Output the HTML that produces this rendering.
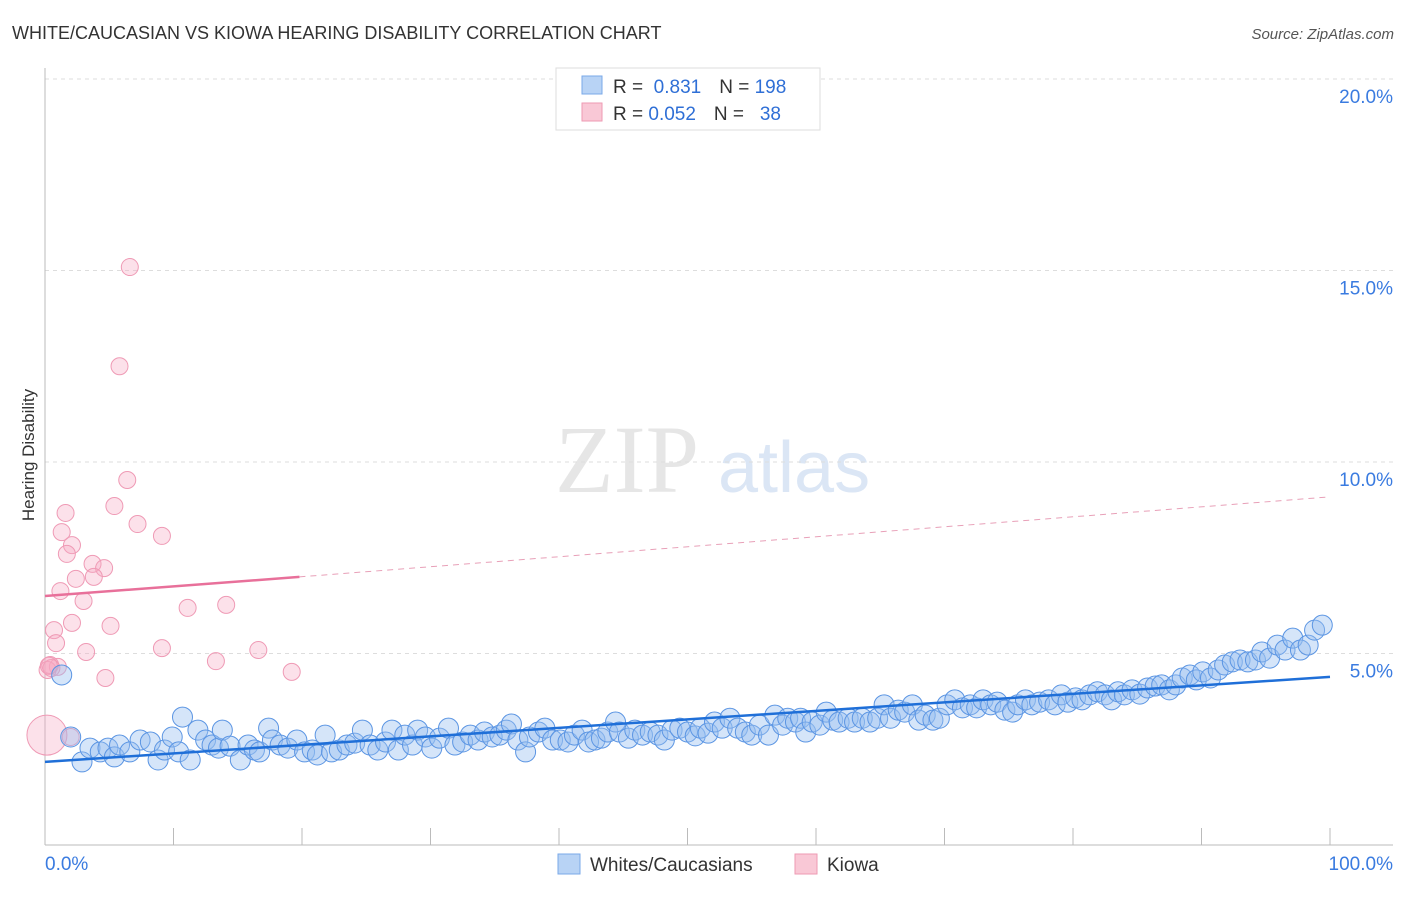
<!DOCTYPE html>
<html><head><meta charset="utf-8"><style>
body{margin:0;background:#fff;font-family:"Liberation Sans",sans-serif}
</style></head><body>
<svg id="chart" width="1406" height="892" xmlns="http://www.w3.org/2000/svg" font-family="Liberation Sans, sans-serif">
<text x="12" y="39" font-size="18" fill="#333">WHITE/CAUCASIAN VS KIOWA HEARING DISABILITY CORRELATION CHART</text>
<text x="1394" y="39" font-size="15" fill="#555" text-anchor="end" font-style="italic">Source: ZipAtlas.com</text>
<text x="555" y="492" font-size="96" fill="#e6e6e6" font-family="Liberation Serif, serif">ZIP</text>
<text x="718" y="492" font-size="72" fill="#dbe6f5">atlas</text>
<g id="grid"></g><g id="axes"></g><g id="marks"></g>
<text transform="translate(34,455) rotate(-90)" font-size="17" fill="#333" text-anchor="middle">Hearing Disability</text>
<g>
<rect x="556" y="68" width="264" height="62" fill="#fff" stroke="#ddd"/>
<rect x="582" y="76" width="20" height="18" fill="#b8d3f5" stroke="#7aa8e8"/>
<rect x="582" y="103" width="20" height="18" fill="#f9c8d6" stroke="#ee9ab3"/>
<text x="613" y="93" font-size="19" fill="#333">R = <tspan fill="#2f6fd6">&#160;0.831</tspan><tspan dx="18">N = </tspan><tspan fill="#2f6fd6">198</tspan></text>
<text x="613" y="120" font-size="19" fill="#333">R = <tspan fill="#2f6fd6">0.052</tspan><tspan dx="18">N = </tspan><tspan fill="#2f6fd6">&#160;&#160;38</tspan></text>
</g>
<g>
<rect x="558" y="854" width="22" height="20" fill="#b8d3f5" stroke="#7aa8e8"/>
<text x="590" y="871" font-size="19" fill="#333">Whites/Caucasians</text>
<rect x="795" y="854" width="22" height="20" fill="#f9c8d6" stroke="#ee9ab3"/>
<text x="827" y="871" font-size="19" fill="#333">Kiowa</text>
</g>
</svg>
<script>
const yTicks=[5,10,15,20];
const yTickLabels=["5.0%","10.0%","15.0%","20.0%"];
const xTicks=[0,10,20,30,40,50,60,70,80,90,100];
const blueX=[1.3,2.0,2.88,3.5,4.3,4.9,5.4,5.8,6.6,7.4,8.2,8.8,9.3,9.9,10.4,10.7,11.3,11.9,12.5,13.0,13.5,13.8,14.4,15.2,15.8,16.3,16.7,17.4,17.7,18.3,18.9,19.6,20.2,20.8,21.2,21.8,22.3,22.9,23.5,24.1,24.7,25.3,25.9,26.5,27.0,27.5,28.0,28.6,29.0,29.6,30.1,30.7,31.4,31.9,32.5,33.1,33.7,34.2,34.8,35.4,35.9,36.3,36.8,37.4,37.7,38.4,38.9,39.5,40.1,40.7,41.2,41.8,42.3,42.8,43.3,43.8,44.4,44.7,45.4,45.9,46.5,47.1,47.7,48.2,48.8,49.4,50.0,50.6,51.0,51.6,52.1,52.7,53.3,53.9,54.5,55.0,55.6,56.3,56.8,57.4,57.8,58.4,58.8,59.2,59.7,60.3,60.8,61.3,61.8,62.5,63.0,63.6,64.2,64.8,65.3,65.8,66.4,66.9,67.5,68.0,68.5,69.1,69.6,70.2,70.8,71.4,72.0,72.5,73.0,73.6,74.1,74.7,75.3,75.7,76.3,76.8,77.4,78.1,78.6,79.1,79.6,80.2,80.7,81.3,81.9,82.5,83.0,83.5,84.0,84.6,85.2,85.8,86.4,86.9,87.5,88.0,88.5,89.1,89.6,90.1,90.7,91.3,91.8,92.4,93.0,93.6,94.2,94.7,95.3,95.9,96.5,97.1,97.7,98.3,98.8,99.4];
const blueY=[4.44,2.82,2.17,2.53,2.43,2.53,2.30,2.61,2.43,2.74,2.69,2.22,2.48,2.82,2.43,3.34,2.22,3.0,2.74,2.61,2.53,3.0,2.58,2.22,2.61,2.48,2.43,3.05,2.74,2.61,2.53,2.74,2.43,2.48,2.35,2.87,2.43,2.48,2.61,2.66,3.0,2.61,2.48,2.69,3.0,2.48,2.87,2.61,3.0,2.82,2.53,2.79,3.05,2.61,2.69,2.87,2.74,2.95,2.82,2.87,3.0,3.16,2.74,2.43,2.82,2.95,3.05,2.74,2.74,2.69,2.87,3.0,2.69,2.74,2.79,2.95,3.21,2.95,2.79,3.0,2.87,2.95,2.87,2.74,3.0,3.05,2.95,2.85,3.05,2.92,3.21,3.05,3.31,3.05,2.95,2.87,3.13,2.87,3.39,3.13,3.31,3.21,3.31,2.95,3.21,3.13,3.47,3.26,3.21,3.31,3.21,3.31,3.21,3.31,3.66,3.31,3.52,3.47,3.66,3.26,3.39,3.26,3.31,3.66,3.79,3.58,3.66,3.58,3.79,3.66,3.73,3.52,3.47,3.66,3.79,3.66,3.73,3.79,3.66,3.92,3.73,3.84,3.79,3.92,4.0,3.92,3.79,4.0,3.92,4.05,3.94,4.10,4.15,4.18,4.05,4.18,4.36,4.44,4.31,4.52,4.36,4.57,4.70,4.78,4.83,4.78,4.83,5.04,4.88,5.22,5.09,5.40,5.09,5.22,5.61,5.74];
const pinkX=[6.6,5.8,6.4,5.4,1.6,7.2,1.3,9.1,2.1,1.7,3.7,4.6,3.8,2.4,1.2,3.0,14.1,11.1,2.1,5.1,0.7,0.86,9.1,16.6,3.2,13.3,0.4,1.0,19.2,4.7,0.2,0.5,0.3,2.0,0.15];
const pinkY=[15.09,12.5,9.53,8.85,8.67,8.38,8.17,8.07,7.83,7.60,7.34,7.23,7.0,6.95,6.63,6.37,6.27,6.19,5.80,5.72,5.61,5.27,5.14,5.09,5.04,4.80,4.70,4.65,4.52,4.36,4.57,4.62,4.68,2.82,2.87];
const blueTrend=[[0,2.17],[100,4.39]];
const pinkTrend=[[0,6.5],[19.8,7.0],[100,9.09]];
const X=v=>45+v*12.85, Y=v=>845-v*38.3;
const NS="http://www.w3.org/2000/svg";
function mk(tag,attrs,parent){const e=document.createElementNS(NS,tag);for(const k in attrs)e.setAttribute(k,attrs[k]);document.getElementById(parent).appendChild(e);return e;}
yTicks.forEach((t,i)=>{
 const g=mk('line',{x1:45,x2:1393,y1:Y(t),y2:Y(t),stroke:'#ddd','stroke-dasharray':'4,4'},'grid');
 
 
 const l=mk('text',{x:1393,y:Y(t)+24,'font-size':19,fill:'#3a7be0','text-anchor':'end'},'grid');
 l.textContent=yTickLabels[i];
 
 
});
const ax=mk('line',{x1:45,x2:1393,y1:845,y2:845,stroke:'#bbb'},'axes');


const ay=mk('line',{x1:45,x2:45,y1:68,y2:845,stroke:'#bbb'},'axes');


xTicks.forEach(t=>{
 const tk=mk('line',{x1:X(t),x2:X(t),y1:828,y2:845,stroke:'#bbb'},'axes');
 
 
});
const x0=mk('text',{x:45,y:870,'font-size':19,fill:'#3a7be0'},'axes');x0.textContent='0.0%';


const x1=mk('text',{x:1393,y:870,'font-size':19,fill:'#3a7be0','text-anchor':'end'},'axes');x1.textContent='100.0%';


pinkX.forEach((v,i)=>{
 const c=mk('circle',{cx:X(v),cy:Y(pinkY[i]),r:(i==pinkX.length-1)?20:8.5,fill:'rgba(246,170,195,0.35)',stroke:'#ef9ab5','stroke-width':1},'marks');
 
 
});
blueX.forEach((v,i)=>{
 const c=mk('circle',{cx:X(v),cy:Y(blueY[i]),r:10,fill:'rgba(150,190,240,0.4)',stroke:'#5b95e3','stroke-width':1},'marks');
 
 
});
const bt=mk('line',{x1:X(blueTrend[0][0]),y1:Y(blueTrend[0][1]),x2:X(blueTrend[1][0]),y2:Y(blueTrend[1][1]),stroke:'#1f6fd8','stroke-width':2.5},'marks');


const pt=mk('line',{x1:X(pinkTrend[0][0]),y1:Y(pinkTrend[0][1]),x2:X(pinkTrend[1][0]),y2:Y(pinkTrend[1][1]),stroke:'#e8709a','stroke-width':2.5},'marks');


const pd=mk('line',{x1:X(pinkTrend[1][0]),y1:Y(pinkTrend[1][1]),x2:X(pinkTrend[2][0]),y2:Y(pinkTrend[2][1]),stroke:'#e8a0b8','stroke-width':1,'stroke-dasharray':'6,5'},'marks');


</script>
</body></html>
